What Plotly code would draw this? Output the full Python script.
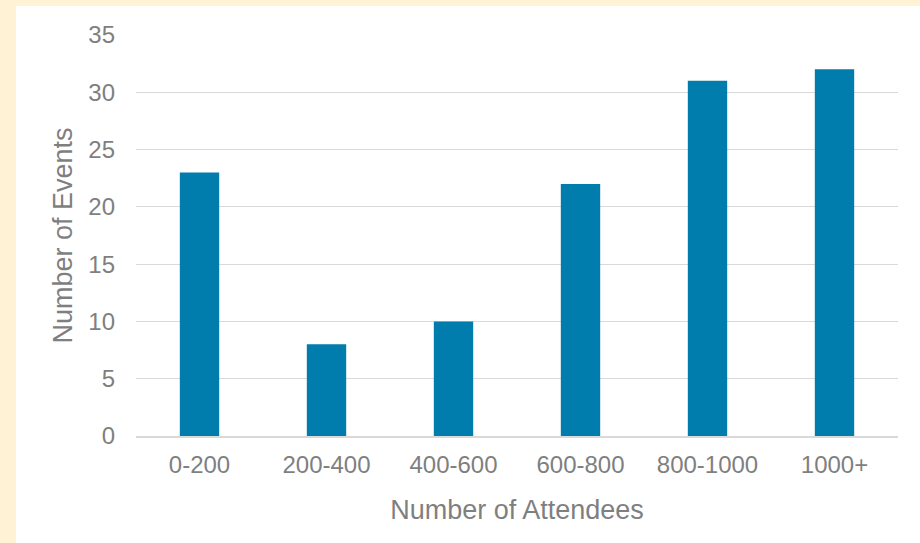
import plotly.graph_objects as go

categories = ["0-200", "200-400", "400-600", "600-800", "800-1000", "1000+"]
events = [23, 8, 10, 22, 31, 32]
y_ticks = [0, 5, 10, 15, 20, 25, 30, 35]

W, H = 920, 543
L, R, T, B = 136, 22, 35, 107
pw, ph = W - L - R, H - T - B

fig = go.Figure(go.Bar(x=categories, y=events, marker_color="#007DAD",
                       marker_line_width=0))

fig.add_shape(type="rect", xref="paper", yref="paper", layer="below",
              x0=(16 - L) / pw, x1=(W - L) / pw,
              y0=-B / ph, y1=(H - 6 - B) / ph,
              fillcolor="white", line_width=0)

fig.update_layout(
    width=W, height=H,
    margin=dict(l=L, r=R, t=T, b=B, pad=0),
    paper_bgcolor="#FFF2D5",
    plot_bgcolor="rgba(0,0,0,0)",
    bargap=0.69,
    font=dict(family="Liberation Sans, Arial, sans-serif", color="#7F7F7F", size=24),
    showlegend=False,
)
fig.update_xaxes(
    title=dict(text="Number of Attendees", font=dict(size=27), standoff=24),
    showgrid=False, showline=True, linecolor="#D9D9D9", linewidth=1.5,
    ticks="", tickfont=dict(size=24), ticklabelstandoff=6,
)
fig.update_yaxes(
    title=dict(text="Number of Events", font=dict(size=27), standoff=7),
    range=[0, 35], tickvals=y_ticks, showgrid=True, gridcolor="#D9D9D9",
    gridwidth=1.3, zeroline=False, ticks="", ticklabelstandoff=20,
    tickfont=dict(size=24),
)

fig.write_html("out.html")
